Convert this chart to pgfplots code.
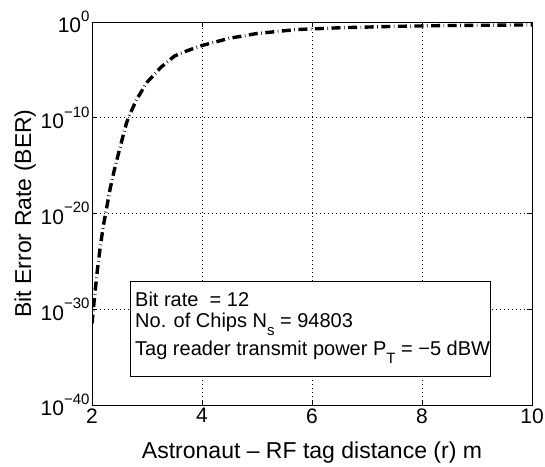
\documentclass[border=0pt]{standalone}
\usepackage{fontspec}
\setmainfont{Liberation Sans}
\usepackage{pgfplots}
\pgfplotsset{compat=1.18}
\newcommand{\sps}[1]{\raisebox{0.55em}{\fontsize{15}{15}\selectfont #1}}
\newcommand{\sbs}[1]{\raisebox{-0.4em}{\fontsize{15}{15}\selectfont #1}}
\begin{document}
\begin{tikzpicture}
\begin{axis}[
  name=ax,
  scale only axis,
  width=440pt, height=383pt,
  xmin=2, xmax=10,
  ymode=log, ymin=1e-40, ymax=1,
  xtick={2,4,6,8,10},
  ytick={1e-40,1e-30,1e-20,1e-10,1},
  yticklabels={10\sps{−40},10\sps{−30},10\sps{−20},10\sps{−10},10\sps{0}},
  minor ytick={},
  /pgf/number format/assume math mode=true,
  tick label style={font=\fontsize{21}{23}\selectfont},
  yticklabel style={xshift=1pt},
  label style={font=\fontsize{23}{26}\selectfont},
  xlabel={Astronaut – RF tag distance (r) m},
  ylabel={Bit Error Rate (BER)},
  xlabel style={yshift=-12pt},
  ylabel style={yshift=-2pt},
  grid=major,
  major grid style={black, dash pattern=on 0.6pt off 3.4pt, line width=0.6pt},
  tick style={black, line width=0.6pt},
  major tick length=5pt,
  axis line style={line width=0.8pt},
  tick pos=both,
  clip=true,
]
\addplot[black, line width=3.4pt, dash pattern=on 9pt off 3.5pt on 0.6pt off 3.5pt] coordinates {
(2.00,3.2e-32)
(2.05,3.2e-29)
(2.10,1.6e-26)
(2.15,3.2e-24)
(2.20,3.2e-22)
(2.33,4.0e-18)
(2.40,2.5e-16)
(2.50,5.0e-14)
(2.63,3.2e-11)
(2.70,3.2e-10)
(2.81,7.9e-9)
(3.00,5.0e-7)
(3.25,1.8e-5)
(3.50,2.8e-4)
(3.75,1.1e-3)
(4.00,3.5e-3)
(4.50,2.0e-2)
(5.00,6.3e-2)
(5.70,0.16)
(6.50,0.25)
(7.50,0.35)
(8.50,0.43)
(10.0,0.5)
};
\draw[black, line width=0.7pt, fill=white] (rel axis cs:0.0864,0.322) rectangle (rel axis cs:0.9045,0.0753);
\node[anchor=base west, inner sep=0pt, font=\fontsize{20}{22}\selectfont] at (rel axis cs:0.0977,0.257) {Bit rate\ \ = 12};
\node[anchor=base west, inner sep=0pt, font=\fontsize{20}{22}\selectfont] at (rel axis cs:0.0977,0.203) {No. of Chips N\sbs{s} = 94803};
\node[anchor=base west, inner sep=0pt, font=\fontsize{20}{22}\selectfont] at (rel axis cs:0.0977,0.128) {Tag reader transmit power P\sbs{T} = −5 dBW};
\end{axis}
\pgfresetboundingbox
\path (ax.south west) ++(-92pt,-61pt) coordinate (bbA);
\path (ax.north east) ++(13pt,22pt) coordinate (bbB);
\path[use as bounding box] (bbA) rectangle (bbB);
\end{tikzpicture}
\end{document}
